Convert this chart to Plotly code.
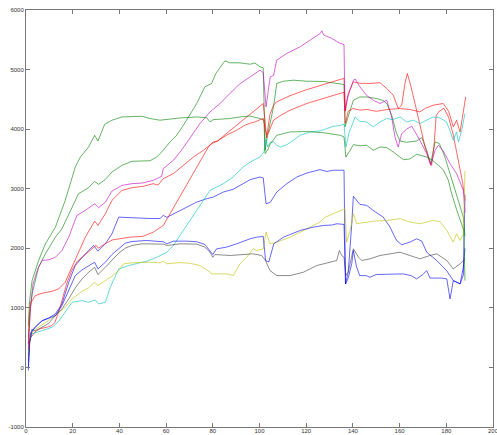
import plotly.graph_objects as go

# ---- data (x = sample index, y = value) ----
blue_top_x = [1, 1.5, 1.8, 3.3, 6.85, 9.7, 12.6, 15.4, 18.3, 21.1, 25.4, 29, 30.8, 34, 36.8, 39.7, 45.4, 49.7, 53, 57.4, 58.8, 60.3, 64.5, 68.8, 73.1, 77.4, 80.2, 84.5, 88.7, 93, 96, 100.2, 101.6, 102.8, 104.6, 107.4, 111.7, 116, 120.2, 125.9, 128.8, 131.6, 136.2, 136.8, 138, 139.5, 140.2, 143, 145.9, 148.7, 153, 155.9, 158.7, 160.9, 164.4, 167.3, 169.5, 171.6, 175.9, 180.1, 183, 185.9, 187.3, 188]
blue_top_y = [-50, 300, 562, 646, 786, 831, 898, 1066, 1430, 1710, 1907, 2047, 1951, 2075, 2243, 2523, 2514, 2496, 2500, 2500, 2552, 2520, 2607, 2691, 2775, 2832, 2860, 2944, 2990, 3085, 3152, 3196, 3180, 2748, 2770, 2944, 3085, 3196, 3263, 3320, 3290, 3310, 3310, 1402, 1600, 2400, 2871, 2737, 2720, 2636, 2523, 2355, 2131, 2059, 2103, 2160, 2120, 1934, 1795, 1626, 1458, 1402, 1550, 2900]

green_b_x = [1, 1.5, 2.6, 5.4, 8.3, 12.6, 15.4, 18.3, 22.5, 26.8, 29.4, 31.1, 33.9, 36.8, 41.1, 45.4, 49.7, 53.1, 56, 58.1, 61.7, 64.5, 67.4, 70.2, 73.1, 76.6, 79.5, 81.3, 85.2, 87.3, 91.6, 94, 96, 98, 100.2, 101.6, 102.4, 103.5, 106, 107.4, 110.3, 114.6, 120, 127.3, 133, 136.2, 136.6, 138, 140.2, 143, 146, 150.2, 153, 154.5, 156.6, 158.7, 160.2, 163, 167.3, 169.5, 171.6, 173.3, 175.2, 177, 179.4, 181.6, 183.7, 185.9, 187.3, 188]
green_b_y = [500, 900, 1234, 1682, 1907, 2187, 2328, 2580, 2917, 3017, 3123, 3073, 3152, 3280, 3393, 3460, 3470, 3470, 3532, 3617, 3785, 3897, 4065, 4234, 4430, 4710, 4767, 4935, 5147, 5113, 5113, 5100, 5090, 5110, 5046, 5030, 3645, 3900, 4373, 4767, 4805, 4822, 4805, 4800, 4767, 4750, 4037, 4200, 4486, 4540, 4540, 4514, 4480, 4430, 4234, 3925, 3801, 3780, 3801, 3858, 3645, 3421, 3785, 3760, 3532, 3253, 2972, 2691, 2523, 2200]

red_u_x = [1, 2, 4, 6, 8.8, 11, 12.4, 14.6, 17.4, 19.6, 22, 25, 28, 30, 31, 34, 37, 40, 44.5, 50, 54.5, 58.8, 61.7, 66, 70.2, 74.5, 78.1, 80.2, 82, 85.8, 90.2, 93.7, 95.9, 97.4, 101.6, 102.5, 103, 104.5, 106, 107.3, 113, 120, 127, 134.5, 136.2, 136.8, 138, 140.2, 143, 147.3, 151.6, 154.5, 157.3, 159.4, 160.9, 162.3, 163.3, 164.5, 166.6, 168.7, 170.9, 173, 173.7, 174.7, 175.7, 177, 179, 181, 183, 185, 187, 188]
red_u_y = [400, 500, 600, 650, 673, 701, 757, 1009, 1402, 1626, 1780, 1880, 1980, 2050, 2000, 2080, 2140, 2160, 2187, 2200, 2271, 2383, 2580, 2860, 3169, 3448, 3700, 3785, 3800, 3925, 4065, 4178, 4234, 4289, 4430, 4100, 3850, 4250, 4400, 4457, 4560, 4660, 4750, 4834, 4850, 4300, 4600, 4794, 4770, 4767, 4780, 4682, 4570, 4346, 4400, 4767, 4935, 4770, 4430, 4094, 3700, 3448, 3393, 3700, 4234, 4300, 4350, 4200, 3900, 3500, 3100, 2800]

cyan_x = [1, 1.5, 2.6, 6.85, 11.1, 14, 16.8, 19.7, 24, 26.8, 29.7, 31.1, 34, 36.1, 39.7, 44, 49.7, 51.7, 56.7, 60.3, 63.1, 66, 69.5, 73.1, 76.6, 78.8, 81.6, 84.5, 88.7, 93, 96, 100.2, 101.9, 102.8, 103.5, 104.6, 106, 107.4, 108.9, 111.7, 114.6, 117.4, 121.7, 126, 128.8, 131.6, 134.5, 136.2, 137, 138.4, 140.2, 140.9, 143, 145.9, 148.7, 151.6, 154.5, 157, 160.2, 163, 165.9, 168.7, 171.5, 174.4, 177.2, 180.1, 181.5, 183, 184.4, 185.2, 186.6, 188]
cyan_y = [200, 450, 562, 617, 673, 774, 925, 1093, 1122, 1093, 1133, 1066, 1093, 1346, 1654, 1710, 1766, 1783, 1862, 1934, 2047, 2215, 2439, 2636, 2832, 2972, 3028, 3085, 3196, 3364, 3448, 3532, 3617, 3841, 3700, 3780, 3785, 3729, 3700, 3740, 3813, 3897, 3953, 3970, 4009, 4048, 4060, 4090, 3700, 3950, 4121, 4205, 4130, 4121, 4037, 4121, 4178, 4160, 4205, 4121, 4150, 4094, 4150, 4205, 4190, 4121, 3981, 3813, 3953, 3785, 3981, 4262]

magenta_x = [1, 2, 3, 5, 6.85, 9.7, 12.6, 15.4, 18.3, 21.8, 25.4, 29.4, 31.1, 34, 36.8, 41.1, 45.4, 49.7, 54.5, 58.1, 58.8, 63.1, 66.6, 70.2, 74.5, 78.8, 83.1, 87.3, 91.6, 96, 100.2, 101.6, 102.8, 104.6, 106, 107.4, 111.7, 117.4, 121.7, 126, 126.7, 127.5, 130.9, 134.5, 136.2, 136.6, 137.5, 138.8, 140.2, 141, 143, 145.8, 148.7, 151.6, 154.5, 156.6, 158, 159.4, 160.9, 163, 165.2, 168.7, 171.6, 173.3, 175.2, 176.6, 178.5, 181.6, 184.4, 187.3, 188]
magenta_y = [400, 1000, 1400, 1650, 1795, 1806, 1850, 1963, 2187, 2552, 2636, 2748, 2681, 2775, 2960, 3056, 3085, 3095, 3140, 3208, 3337, 3477, 3645, 3841, 4094, 4289, 4430, 4599, 4760, 4878, 4990, 4950, 4373, 4878, 4900, 5159, 5271, 5383, 5495, 5607, 5650, 5580, 5524, 5440, 5420, 4318, 4500, 4650, 4822, 4840, 4710, 4570, 4486, 4430, 4486, 4205, 3869, 3700, 3925, 4000, 4050, 3813, 3589, 3393, 3645, 3729, 3645, 3421, 3253, 2972, 2600]

yellow_x = [1, 2, 4, 7, 10, 13, 16.8, 19.7, 24, 26.8, 29.4, 30.8, 34, 36.8, 39.7, 41.8, 45.4, 49.7, 53.1, 57.4, 58.8, 60.3, 66, 70.2, 74.5, 78.8, 79.5, 85.8, 88.8, 91.6, 94.5, 97.3, 98.8, 101.6, 102.8, 104.5, 107.4, 113.1, 120.2, 125.9, 128, 131.6, 135.9, 136.6, 137.3, 138.8, 140.2, 141.6, 145.9, 150, 154.5, 160.2, 164.5, 168.7, 174.4, 177.3, 180.2, 183, 184.4, 185.9, 187.3, 188]
yellow_y = [200, 550, 640, 720, 790, 880, 1009, 1150, 1278, 1335, 1430, 1374, 1458, 1531, 1626, 1739, 1756, 1766, 1766, 1755, 1783, 1739, 1760, 1749, 1710, 1598, 1570, 1570, 1542, 1739, 1850, 1991, 1963, 1991, 2271, 2075, 2103, 2187, 2328, 2439, 2520, 2580, 2664, 2664, 2103, 2299, 2580, 2412, 2439, 2460, 2467, 2496, 2439, 2412, 2467, 2450, 2299, 2103, 2243, 2131, 2243, 3300]

black_x = [1, 1.5, 2.5, 4, 6.85, 9.7, 12.6, 15.4, 18.3, 21.1, 24, 26.8, 29.4, 30.8, 34, 36.8, 39.7, 42.5, 45.4, 49.7, 51.7, 58.8, 60.3, 66, 73.1, 76.6, 78.8, 80, 80.9, 87.4, 97.3, 100.9, 102.5, 104.5, 107.4, 113.1, 118.8, 124.5, 130.2, 133.1, 134.2, 135.2, 136.2, 137, 138, 140.2, 142.4, 143.8, 147.3, 151.6, 160.2, 164.5, 168.7, 173, 175.9, 180.2, 183, 185.9, 188]
black_y = [100, 450, 640, 617, 673, 740, 870, 982, 1150, 1335, 1487, 1598, 1682, 1559, 1682, 1806, 1918, 2002, 2047, 2075, 2075, 2070, 2047, 2075, 2070, 2019, 1934, 1850, 1895, 1879, 1907, 1879, 1800, 1626, 1542, 1542, 1598, 1710, 1766, 1795, 1963, 1879, 1850, 1542, 1600, 1991, 1850, 1795, 1823, 1879, 1934, 1879, 1823, 1879, 1907, 1795, 1654, 1739, 1823]

blue_mid_x = [1, 1.5, 2.5, 4, 6.85, 9.7, 12.6, 15.4, 18.3, 21.1, 24, 26.8, 29.4, 30.8, 34, 36.8, 39.7, 42.5, 45.4, 49.7, 51.7, 55, 58.8, 60.3, 63.1, 68.8, 73.1, 76.6, 78.8, 80, 81.6, 85.8, 90.2, 93.7, 96, 98.8, 101.6, 102.6, 104, 106.1, 110.3, 117.4, 123.1, 127.4, 131, 133.1, 136.2, 136.9, 138, 139.5, 140.2, 141.5, 142.9, 145.8, 147.3, 150, 155, 161.6, 165, 167.3, 170, 171.6, 173, 178, 180.2, 181.6, 183, 185.9, 187.3, 188]
blue_mid_y = [0, 400, 600, 680, 780, 820, 870, 1038, 1301, 1542, 1638, 1699, 1766, 1654, 1766, 1895, 1991, 2086, 2114, 2131, 2131, 2120, 2110, 2075, 2120, 2120, 2110, 2064, 1963, 1895, 1990, 2019, 2075, 2131, 2160, 2187, 2198, 1795, 1770, 2075, 2187, 2299, 2355, 2383, 2390, 2412, 2400, 1402, 1500, 1739, 1963, 1700, 1542, 1540, 1514, 1560, 1560, 1570, 1540, 1487, 1560, 1626, 1500, 1500, 1487, 1150, 1458, 1402, 1682, 2000]

green_a_x = [1, 1.5, 2.6, 5.4, 8.3, 12.6, 16.8, 21.1, 23.3, 26.8, 29.4, 30.8, 33.7, 36.8, 41.1, 49.7, 53.1, 57.4, 66, 73.4, 77.4, 78.8, 80.2, 87.3, 91.6, 95.9, 100.2, 101.9, 102.4, 103.5, 104.6, 107.4, 113.1, 120.2, 127.3, 134.5, 136.2, 137, 138.8, 140.2, 143, 145.9, 148.7, 151.6, 154.5, 157.3, 161.6, 164.4, 167.3, 169.5, 171.6, 174, 176.6, 178.7, 180.9, 182.3, 184.4, 186.6, 187.5, 188]
green_a_y = [700, 1100, 1458, 1795, 2075, 2355, 2804, 3364, 3532, 3700, 3897, 3801, 4082, 4150, 4205, 4216, 4178, 4150, 4188, 4205, 4190, 4121, 4160, 4178, 4205, 4220, 4178, 4150, 3589, 3650, 3750, 3897, 3953, 3960, 3940, 3897, 3870, 3532, 3645, 3740, 3720, 3730, 3645, 3700, 3690, 3617, 3488, 3500, 3577, 3550, 3532, 3480, 3393, 3320, 3140, 2916, 2650, 2412, 2300, 1458]

red_l_x = [1, 1.5, 1.8, 4, 6.85, 11.1, 14, 16.8, 19.7, 22.6, 25.4, 29.4, 30.8, 34, 36.8, 41.1, 45.4, 50.2, 54.5, 56.5, 58.8, 63.1, 67.4, 71.7, 76, 79.5, 82, 85.8, 90.2, 93.7, 96, 98, 101.6, 103, 104, 106, 109, 113.1, 120.2, 127.3, 134.5, 136.2, 136.8, 138, 140, 143, 146, 150, 155, 160, 164.5, 168.7, 171, 174.4, 178.7, 181, 183, 184.4, 185.9, 187.3, 188.3]
red_l_y = [300, 800, 1066, 1206, 1245, 1278, 1318, 1430, 1682, 1934, 2187, 2456, 2383, 2580, 2804, 2972, 3017, 3040, 3085, 3060, 3169, 3253, 3393, 3532, 3645, 3757, 3800, 3897, 3981, 4065, 4100, 4120, 4180, 3900, 3950, 4150, 4230, 4318, 4430, 4514, 4599, 4620, 4100, 4300, 4346, 4320, 4330, 4300, 4330, 4346, 4330, 4289, 4350, 4402, 4430, 4300, 4037, 4150, 3953, 4318, 4541]

series = [
    (blue_top_x, blue_top_y, "rgba(0,0,255,0.6)"),
    (green_b_x, green_b_y, "rgba(0,128,0,0.6)"),
    (red_u_x, red_u_y, "rgba(255,0,0,0.6)"),
    (cyan_x, cyan_y, "rgba(0,191,191,0.6)"),
    (magenta_x, magenta_y, "rgba(191,0,191,0.6)"),
    (yellow_x, yellow_y, "rgba(191,191,0,0.6)"),
    (black_x, black_y, "rgba(64,64,64,0.6)"),
    (blue_mid_x, blue_mid_y, "rgba(0,0,255,0.6)"),
    (green_a_x, green_a_y, "rgba(0,128,0,0.6)"),
    (red_l_x, red_l_y, "rgba(255,0,0,0.6)"),
]

x_ticks = [0, 20, 40, 60, 80, 100, 120, 140, 160, 180, 200]
y_ticks = [-1000, 0, 1000, 2000, 3000, 4000, 5000, 6000]

fig = go.Figure()
for xs, ys, col in series:
    fig.add_trace(go.Scatter(x=xs, y=ys, mode="lines",
                             line=dict(color=col, width=1), showlegend=False))

axis_common = dict(showline=True, linecolor="#777777", linewidth=1, mirror="ticks",
                   ticks="inside", ticklen=4, tickcolor="#777777", tickwidth=1,
                   showgrid=False, zeroline=False, automargin=False,
                   ticklabeloverflow="allow",
                   tickfont=dict(family="Liberation Sans", size=6, color="#333333"))

fig.update_layout(
    width=497, height=435,
    margin=dict(l=26, r=4, t=10, b=8),
    paper_bgcolor="white", plot_bgcolor="white",
    xaxis=dict(range=[0, 200], tickvals=x_ticks, ticktext=[str(v) for v in x_ticks],
               ticklabelstandoff=-2, **axis_common),
    yaxis=dict(range=[-1000, 6000], tickvals=y_ticks, ticktext=[str(v) for v in y_ticks],
               **axis_common),
)

fig.write_html("out.html", config={"displayModeBar": False},
               post_script="document.body.style.margin='0px';")
